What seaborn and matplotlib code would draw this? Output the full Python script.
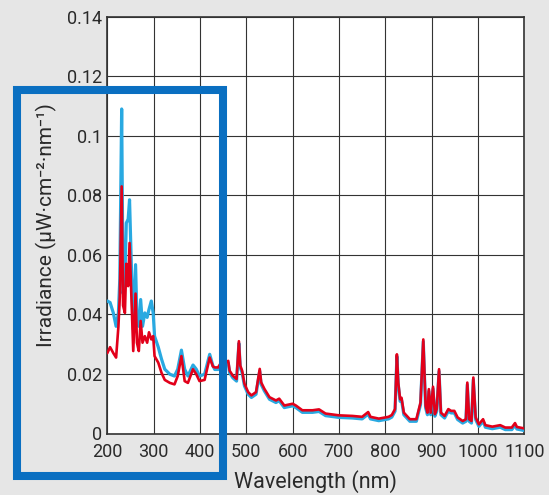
import numpy as np
import pandas as pd
import matplotlib
matplotlib.use('Agg')
import matplotlib.pyplot as plt
from matplotlib.patches import Rectangle
from matplotlib.ticker import FuncFormatter
import seaborn as sns

# 光谱数据
wl_red = [200, 206, 213, 219, 224, 227, 231, 234, 238, 241, 245, 248, 252, 256, 261, 264, 268, 272, 276,
          281, 286, 290, 295, 299, 302, 310, 317, 324, 335, 345, 352, 360, 367, 374, 385, 392, 399, 410,
          421, 428, 432, 439, 446, 457, 461, 464, 471, 479, 484, 487, 491, 496, 504, 511, 521, 529, 532,
          539, 550, 564, 571, 582, 600, 607, 621, 643, 657, 671, 700, 729, 750, 763, 768, 786, 807, 814,
          821, 825, 828, 832, 835, 840, 853, 867, 876, 882, 887, 891, 894, 898, 903, 907, 911, 916, 920,
          928, 936, 942, 949, 956, 967, 974, 977, 981, 986, 990, 995, 1002, 1011, 1016, 1031, 1048, 1059,
          1073, 1080, 1084, 1100]
irr_red = [0.027, 0.029, 0.027, 0.0255, 0.036, 0.046, 0.083, 0.043, 0.0405, 0.057, 0.0495, 0.064, 0.046,
           0.0277, 0.047, 0.0305, 0.0277, 0.0378, 0.0305, 0.0327, 0.0305, 0.034, 0.0316, 0.0327, 0.026,
           0.0238, 0.0204, 0.018, 0.017, 0.0165, 0.0193, 0.026, 0.0176, 0.017, 0.0216, 0.0199, 0.0176,
           0.018, 0.0255, 0.0225, 0.0222, 0.0222, 0.0239, 0.024, 0.0244, 0.0211, 0.0194, 0.0183, 0.031,
           0.0228, 0.0211, 0.0167, 0.0139, 0.0128, 0.0139, 0.0217, 0.0172, 0.015, 0.0122, 0.0111, 0.0117,
           0.0094, 0.01, 0.0094, 0.0078, 0.0078, 0.0081, 0.0067, 0.0061, 0.0059, 0.0056, 0.0072, 0.0056,
           0.005, 0.0056, 0.0062, 0.0082, 0.0266, 0.017, 0.0115, 0.012, 0.007, 0.0048, 0.0048, 0.0104,
           0.0316, 0.0093, 0.007, 0.0149, 0.007, 0.0157, 0.0065, 0.0082, 0.0216, 0.007, 0.0059, 0.0082,
           0.0076, 0.0076, 0.0054, 0.0042, 0.0048, 0.0171, 0.0048, 0.0042, 0.0188, 0.0054, 0.0031, 0.0048,
           0.0028, 0.0023, 0.0028, 0.002, 0.002, 0.0035, 0.0022, 0.0017]

wl_blue = wl_red
irr_blue = [0.0445, 0.044, 0.0405, 0.036, 0.0405, 0.052, 0.109, 0.047, 0.052, 0.0707, 0.072, 0.0785, 0.056,
            0.035, 0.0567, 0.038, 0.036, 0.045, 0.036, 0.0405, 0.039, 0.0417, 0.0445, 0.0405, 0.0327,
            0.029, 0.025, 0.0216, 0.0199, 0.0193, 0.0216, 0.028, 0.0216, 0.0193, 0.023, 0.0216, 0.0193,
            0.0199, 0.0266, 0.0227, 0.0215, 0.0215, 0.0232, 0.0233, 0.0237, 0.0204, 0.0187, 0.0176, 0.0303,
            0.0221, 0.0204, 0.016, 0.0132, 0.0121, 0.0132, 0.021, 0.0165, 0.0143, 0.0115, 0.0104, 0.011,
            0.0087, 0.0093, 0.0087, 0.0071, 0.0071, 0.0074, 0.006, 0.0054, 0.0052, 0.0049, 0.0065, 0.0049,
            0.0043, 0.0049, 0.0055, 0.0075, 0.0259, 0.0163, 0.0108, 0.0113, 0.0063, 0.0041, 0.0041, 0.0097,
            0.0309, 0.0086, 0.0063, 0.0142, 0.0063, 0.015, 0.0058, 0.0075, 0.0209, 0.0063, 0.0052, 0.0075,
            0.0069, 0.0069, 0.0047, 0.0035, 0.0041, 0.0164, 0.0041, 0.0035, 0.0181, 0.0047, 0.0024, 0.0041,
            0.0021, 0.0016, 0.0021, 0.0013, 0.0013, 0.0028, 0.0015, 0.001]

x_ticks = [200, 300, 400, 500, 600, 700, 800, 900, 1000, 1100]
y_ticks = [0, 0.02, 0.04, 0.06, 0.08, 0.1, 0.12, 0.14]

df_blue = pd.DataFrame({'wl': wl_blue, 'irr': irr_blue})
df_red = pd.DataFrame({'wl': wl_red, 'irr': irr_red})

sns.set_style('white')
plt.rcParams['font.family'] = ['Roboto', 'DejaVu Sans']

bg = '#e6e6e6'
fig = plt.figure(figsize=(5.49, 4.95), dpi=100, facecolor=bg)
ax = fig.add_axes([107.3 / 549, 1 - 433.5 / 495, (524.3 - 107.3) / 549, (433.5 - 16.7) / 495])
ax.set_facecolor('white')

sns.lineplot(data=df_blue, x='wl', y='irr', ax=ax, color='#29a9e1', lw=2.3, zorder=3)
sns.lineplot(data=df_red, x='wl', y='irr', ax=ax, color='#e2001a', lw=1.9, zorder=4)

ax.set_xlim(200, 1100)
ax.set_ylim(0, 0.14)
ax.set_xticks(x_ticks)
ax.set_yticks(y_ticks)
ax.yaxis.set_major_formatter(FuncFormatter(lambda v, p: f'{v:g}'))
ax.grid(True, color='#333333', lw=0.8)
ax.tick_params(length=0, labelsize=13, colors='#2a2a2a')
ax.tick_params(axis='x', pad=7)
ax.tick_params(axis='y', pad=4)
for s in ax.spines.values():
    s.set_color('#333333')
    s.set_linewidth(1.2)

ax.set_xlabel('Wavelength (nm)', fontsize=15.5, color='#2a2a2a', labelpad=6)
ax.set_ylabel('Irradiance (μW·cm⁻²·nm⁻¹)', fontsize=15, color='#2a2a2a', labelpad=7)

# 蓝色方框
rect = Rectangle((16.5 / 549, 1 - 475.5 / 495), (223.3 - 16.5) / 549, (475.5 - 90.3) / 495,
                 transform=fig.transFigure, fill=False, edgecolor='#0a6fc1', lw=5.8, zorder=10)
fig.add_artist(rect)

fig.savefig('out.png', dpi=100, facecolor=bg)
